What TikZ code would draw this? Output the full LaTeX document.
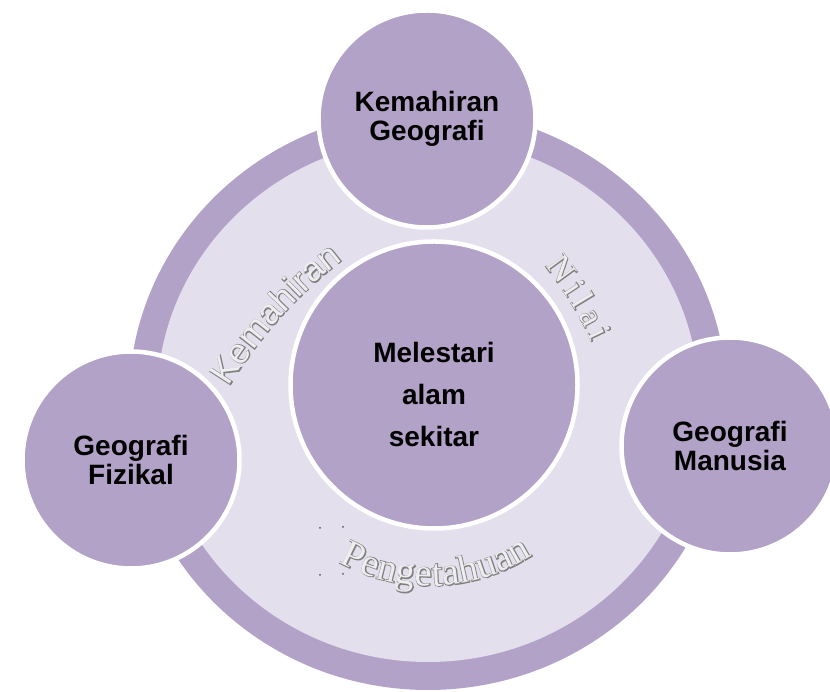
\documentclass[tikz,border=0pt]{standalone}
\usepackage{fontspec}
\setmainfont{Liberation Sans}
\newfontfamily\arcsans{Liberation Sans}
\newfontfamily\arcsansB[FakeBold=4]{Liberation Sans}
\newfontfamily\arcserif{Liberation Serif}
\newfontfamily\arcserifB[FakeBold=4]{Liberation Serif}
\usetikzlibrary{decorations.text}
\definecolor{ringpurple}{RGB}{179,162,199}
\definecolor{ringlight}{RGB}{228,223,236}
\definecolor{wordline}{RGB}{128,128,128}
\definecolor{wordfill}{RGB}{238,238,240}
\definecolor{speck}{RGB}{90,90,90}
\newcommand\kemLine{\arcsansB\fontsize{35}{35}\selectfont\color{wordline}}
\newcommand\kemFill{\arcsans\fontsize{35}{35}\selectfont\color{wordfill}}
\newcommand\nilLine{\arcserifB\fontsize{34}{34}\selectfont\color{wordline}}
\newcommand\nilFill{\arcserif\fontsize{34}{34}\selectfont\color{wordfill}}
\newcommand\penLine{\arcserifB\fontsize{39}{39}\selectfont\color{wordline}}
\newcommand\penFill{\arcserif\fontsize{39}{39}\selectfont\color{wordfill}}
\tikzset{
  bubble/.style={circle, fill=ringpurple, draw=white, line width=4.5pt,
    minimum size=217pt, inner sep=0pt, align=center,
    font=\bfseries\fontsize{28}{29}\selectfont},
  hub/.style={circle, fill=ringpurple, draw=white, line width=4.5pt,
    minimum size=287pt, inner sep=0pt},
  hubtext/.style={align=center, inner sep=0pt,
    font=\bfseries\fontsize{28}{42}\selectfont},
  arcword/.style={decorate, decoration={text along path, text align={fit to path}, text={#1}}},
  speckdot/.style={fill=speck, circle, inner sep=0pt, minimum size=2pt}
}
\begin{document}
\begin{tikzpicture}[x=1pt,y=1pt]
\useasboundingbox (0,0) rectangle (830,692);
% ring
\coordinate (rc) at (428,292);
\fill[ringpurple] (rc) ellipse[x radius=299pt, y radius=290pt];
\fill[ringlight] (rc) ellipse[x radius=271pt, y radius=262pt];
% hub and bubbles
\node[hub] (hub) at (434,307) {};
\node[hubtext] (hubtext) at (434,297) {Melestari\\alam\\sekitar};
\node[bubble] (top) at (427,573) {Kemahiran\\Geografi};
\node[bubble] (left) at (131,232) {Geografi\\Fizikal};
\node[bubble] (right) at (730,246) {Geografi\\Manusia};
% Kemahiran
\coordinate (ks) at (229,305);
\coordinate (kc1) at (259,354);
\coordinate (kc2) at (297,397);
\coordinate (ke) at (343,432);
\path[arcword={|\kemLine|Kemahiran}] (ks) .. controls (kc1) and (kc2) .. (ke);
\path[arcword={|\kemFill|Kemahiran}] (ks) .. controls (kc1) and (kc2) .. (ke);
% Nilai
\coordinate (ns) at (545,426);
\coordinate (nc1) at (563,403);
\coordinate (nc2) at (579,378);
\coordinate (ne) at (592,350);
\path[arcword={|\nilLine|Nilai}] (ns) .. controls (nc1) and (nc2) .. (ne);
\path[arcword={|\nilFill|Nilai}] (ns) .. controls (nc1) and (nc2) .. (ne);
% Pengetahuan
\coordinate (ps) at (338.9,129.6);
\path[arcword={|\penLine|Pengetahuan}] (ps) arc[start angle=-119, end angle=-57, radius=188pt];
\path[arcword={|\penFill|Pengetahuan}] (ps) arc[start angle=-119, end angle=-57, radius=188pt];
% specks
\node[speckdot] (s1) at (320,164) {};
\node[speckdot] (s2) at (343,165) {};
\node[speckdot] (s3) at (320,117) {};
\node[speckdot] (s4) at (343,118) {};
\end{tikzpicture}
\end{document}
